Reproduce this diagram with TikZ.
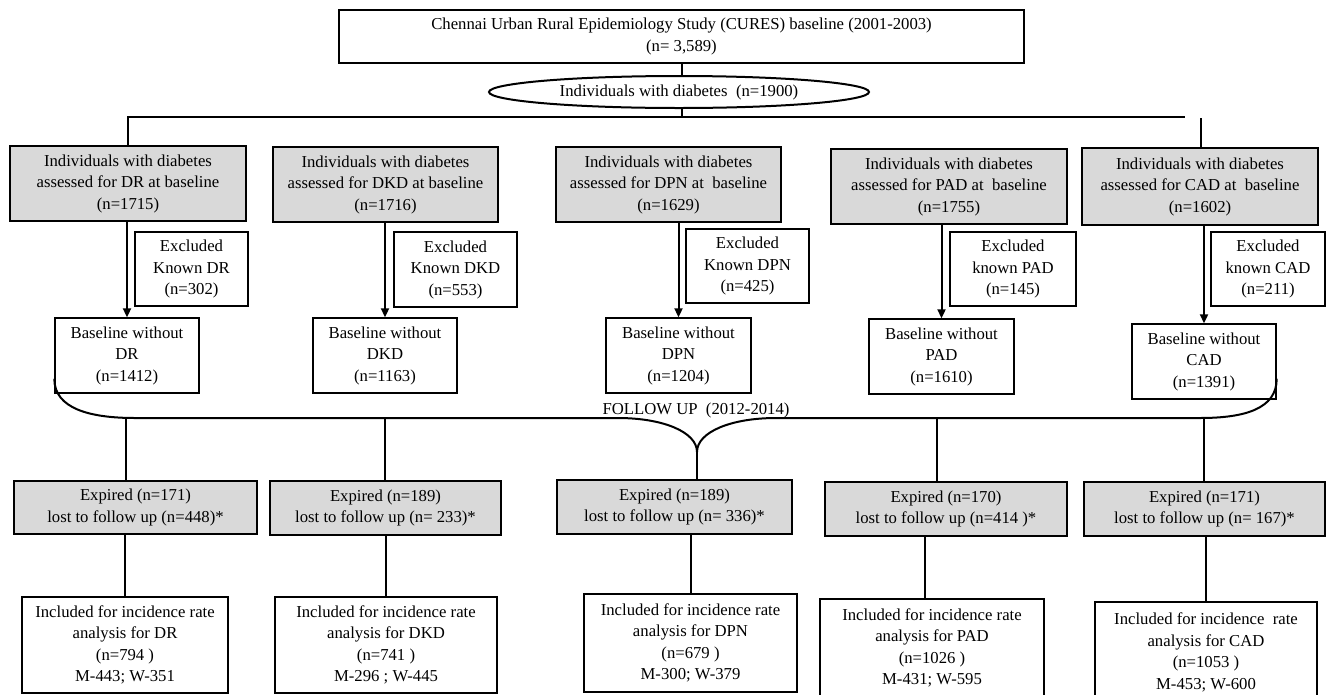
\documentclass[tikz,border=0pt]{standalone}
\usepackage{fontspec}
\setmainfont{Liberation Serif}
\usetikzlibrary{shapes.geometric, arrows.meta, calc}
\definecolor{boxgrey}{HTML}{D9D9D9}
\tikzset{
  txt/.style={font=\fontsize{16.7}{21.5}\selectfont, align=center, inner sep=0pt},
  wbox/.style={txt, draw, rectangle, line width=1.4pt},
  gbox/.style={wbox, fill=boxgrey},
  sz/.style 2 args={minimum width=#1pt, minimum height=#2pt},
  conn/.style={line width=2pt},
  arr/.style={conn, -{Triangle[length=9pt,width=8pt]}},
}
\begin{document}
\begin{tikzpicture}[x=1pt, y=-1pt]
\useasboundingbox (0,0) rectangle (1327,694);
\clip (0,0) rectangle (1327,694);

% top
\node[wbox, line width=2pt, sz={685}{53}] (top) at (681.5,36.5) {Chennai Urban Rural Epidemiology Study (CURES) baseline (2001-2003)\\(n= 3,589)};
\node[txt, draw, ellipse, line width=2pt, minimum width=380pt, minimum height=32pt] (ell) at (679,92) {Individuals with diabetes~ (n=1900)};

% row 1
\node[gbox, sz={236}{75}] (g1) at (128,183.5) {Individuals with diabetes\\assessed for DR at baseline\\(n=1715)};
\node[gbox, sz={225}{75}] (g2) at (385.5,184.5) {Individuals with diabetes\\assessed for DKD at baseline\\(n=1716)};
\node[gbox, sz={225}{75}] (g3) at (668.5,184.5) {Individuals with diabetes\\assessed for DPN at~ baseline\\(n=1629)};
\node[gbox, sz={236}{75}] (g4) at (949,186.5) {Individuals with diabetes\\assessed for PAD at~ baseline\\(n=1755)};
\node[gbox, sz={236}{77}] (g5) at (1200,186.5) {Individuals with diabetes\\assessed for CAD at~ baseline\\(n=1602)};

% excluded
\node[wbox, sz={113}{74}] (x1) at (191.5,269) {Excluded\\Known DR\\(n=302)};
\node[wbox, sz={123}{75}] (x2) at (455.5,269.5) {Excluded\\Known DKD\\(n=553)};
\node[wbox, sz={123}{74}] (x3) at (747.5,266) {Excluded\\Known DPN\\(n=425)};
\node[wbox, sz={126}{74}] (x4) at (1013,269) {Excluded\\known PAD\\(n=145)};
\node[wbox, sz={114}{74}] (x5) at (1268,269) {Excluded\\known CAD\\(n=211)};

% baseline
\node[wbox, sz={144}{75}] (b1) at (127,355.5) {Baseline without\\DR\\(n=1412)};
\node[wbox, sz={144}{75}] (b2) at (385,355.5) {Baseline without\\DKD\\(n=1163)};
\node[wbox, sz={145}{75}] (b3) at (678.5,355.5) {Baseline without\\DPN\\(n=1204)};
\node[wbox, sz={145}{75}] (b4) at (941.5,356.5) {Baseline without\\PAD\\(n=1610)};
\node[wbox, sz={144}{75}] (b5) at (1204,361.5) {Baseline without\\CAD\\(n=1391)};

% follow up label
\node[txt] (fu) at (696,410) {FOLLOW UP~ (2012-2014)};

% expired
\node[gbox, sz={243}{53}] (e1) at (135.5,507.5) {Expired (n=171)\\lost to follow up (n=448)*};
\node[gbox, sz={231}{54}] (e2) at (385.5,508) {Expired (n=189)\\lost to follow up (n= 233)*};
\node[gbox, sz={235}{54}] (e3) at (674.5,507) {Expired (n=189)\\lost to follow up (n= 336)*};
\node[gbox, sz={242}{54}] (e4) at (946,509) {Expired (n=170)\\lost to follow up (n=414 )*};
\node[gbox, sz={241}{54}] (e5) at (1204.5,509) {Expired (n=171)\\lost to follow up (n= 167)*};

% included
\node[wbox, sz={206}{96}] (i1) at (125,645) {Included for incidence rate\\analysis for DR\\(n=794 )\\M-443; W-351};
\node[wbox, sz={222}{96}] (i2) at (386,645) {Included for incidence rate\\analysis for DKD\\(n=741 )\\M-296 ; W-445};
\node[wbox, sz={213}{98}] (i3) at (690.5,643) {Included for incidence rate\\analysis for DPN\\(n=679 )\\M-300; W-379};
\node[wbox, sz={224}{98}] (i4) at (932,648) {Included for incidence rate\\analysis for PAD\\(n=1026 )\\M-431; W-595};
\node[wbox, sz={222}{101}] (i5) at (1206,652.5) {Included for incidence~ rate\\analysis for CAD\\(n=1053 )\\M-453; W-600};

% top connectors
\coordinate (hr) at (1185,117);
\coordinate (cv) at (1201,118);
\draw[conn] (top.south) -- (top.south |- ell.north);
\draw[conn] (top.south |- ell.south) -- (top.south |- hr);
\draw[conn] (g1.north) |- (hr);
\draw[conn] (cv) -- (cv |- g5.north);

% arrows
\foreach \i in {1,...,5}
  \draw[arr] (b\i.north |- g\i.south) -- (b\i.north);

% brace
\coordinate (tip) at (697,452);
\coordinate (bl) at (135,418);
\coordinate (blm) at (618,418);
\coordinate (brm) at (776,418);
\coordinate (br) at (1200,418);
\draw[conn] ($(b1.south west)+(0,-15)$) .. controls +(0,30) and +(-45,0) .. (bl) -- (blm)
  .. controls +(45,0) and +(0,-20) .. (tip);
\draw[conn] (tip) .. controls +(0,-20) and +(-45,0) .. (brm) -- (br)
  .. controls +(45,0) and +(0,30) .. ($(b5.south east)+(0,-21)$);

% brace drops
\coordinate (f1) at (126,418);
\coordinate (f2) at (385,418);
\coordinate (f4) at (937,418);
\coordinate (f5) at (1204,418);
\draw[conn] (f1) -- (f1 |- e1.north);
\draw[conn] (f2) -- (f2 |- e2.north);
\draw[conn] (tip) -- (tip |- e3.north);
\draw[conn] (f4) -- (f4 |- e4.north);
\draw[conn] (f5) -- (f5 |- e5.north);

% expired to included
\coordinate (d4) at (925,0);
\draw[conn] (i1.north |- e1.south) -- (i1.north);
\draw[conn] (i2.north |- e2.south) -- (i2.north);
\draw[conn] (i3.north |- e3.south) -- (i3.north);
\draw[conn] (d4 |- e4.south) -- (d4 |- i4.north);
\draw[conn] (i5.north |- e5.south) -- (i5.north);
\end{tikzpicture}
\end{document}
